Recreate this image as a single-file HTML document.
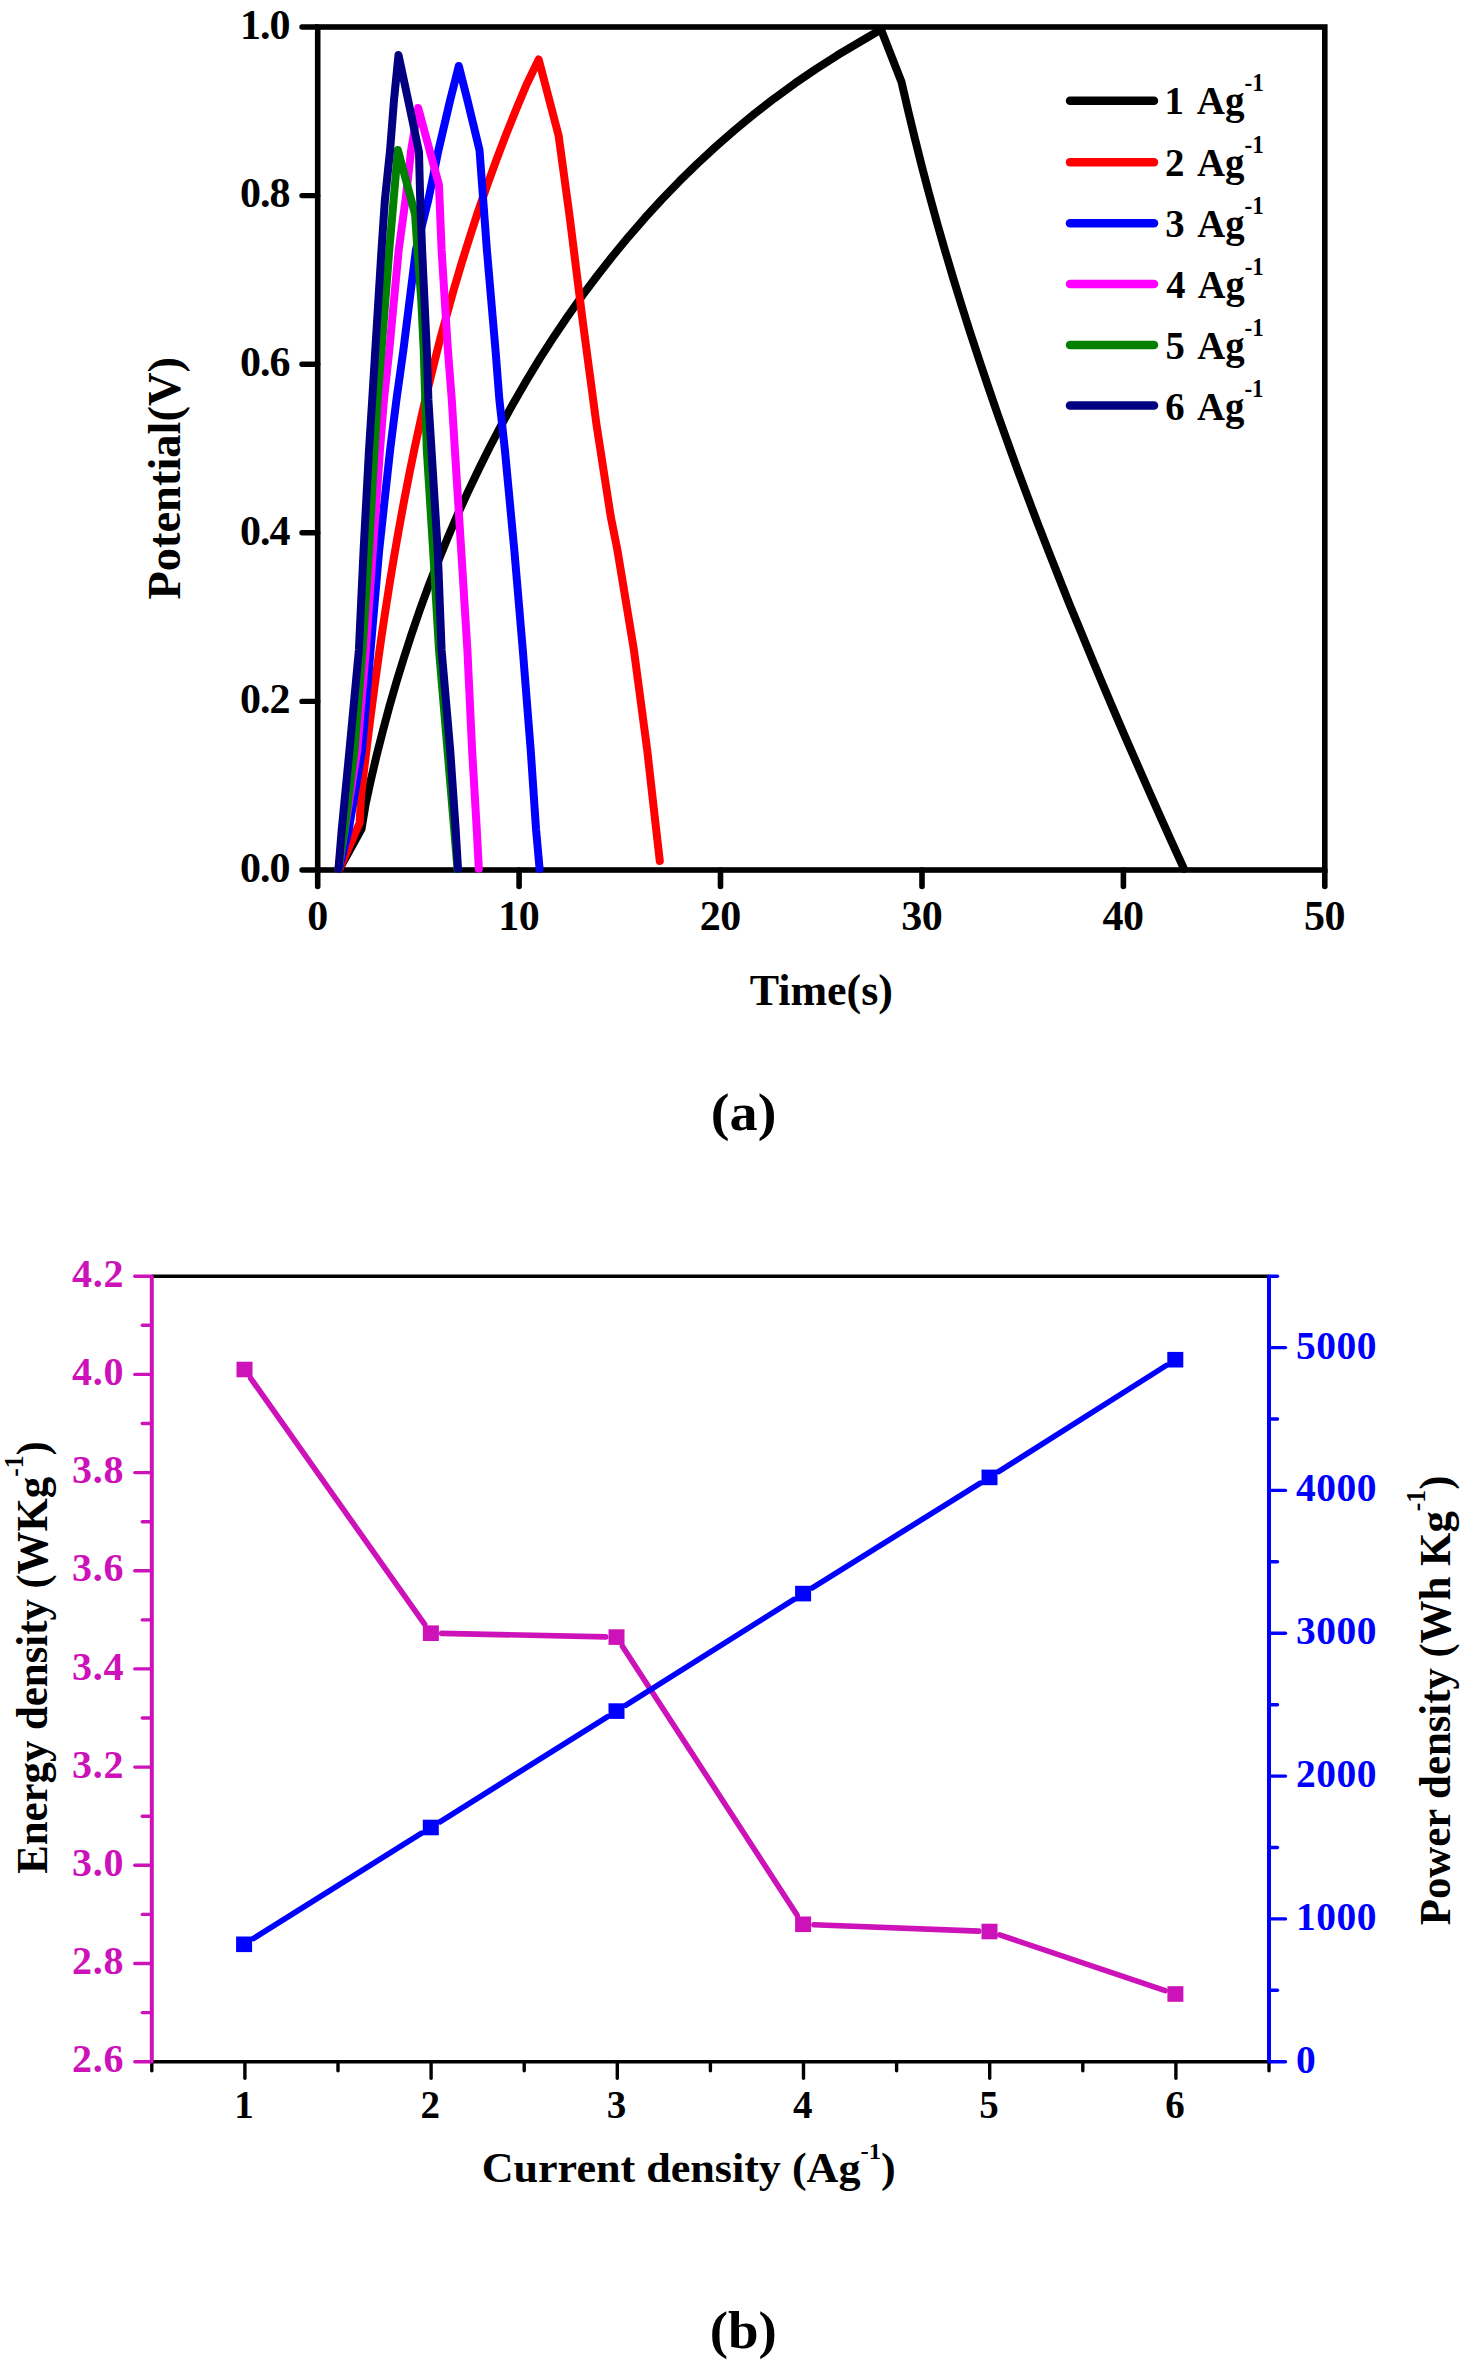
<!DOCTYPE html>
<html><head><meta charset="utf-8"><style>
html,body{margin:0;padding:0;background:#fff;}
svg{display:block;}
</style></head><body>
<svg width="1473" height="2363" viewBox="0 0 1473 2363">
<rect width="1473" height="2363" fill="#fff"/>
<rect x="317.7" y="27.0" width="1007.1" height="843" fill="none" stroke="#000" stroke-width="5.6"/>
<line x1="302" y1="870" x2="317.7" y2="870" stroke="#000" stroke-width="5.4" stroke-linecap="round"/>
<text x="289.6" y="881.8" text-anchor="end" font-size="42" letter-spacing="-1" font-family="Liberation Serif, serif" font-weight="bold">0.0</text>
<line x1="302" y1="701.4" x2="317.7" y2="701.4" stroke="#000" stroke-width="5.4" stroke-linecap="round"/>
<text x="289.6" y="713.2" text-anchor="end" font-size="42" letter-spacing="-1" font-family="Liberation Serif, serif" font-weight="bold">0.2</text>
<line x1="302" y1="532.8" x2="317.7" y2="532.8" stroke="#000" stroke-width="5.4" stroke-linecap="round"/>
<text x="289.6" y="544.6" text-anchor="end" font-size="42" letter-spacing="-1" font-family="Liberation Serif, serif" font-weight="bold">0.4</text>
<line x1="302" y1="364.2" x2="317.7" y2="364.2" stroke="#000" stroke-width="5.4" stroke-linecap="round"/>
<text x="289.6" y="376" text-anchor="end" font-size="42" letter-spacing="-1" font-family="Liberation Serif, serif" font-weight="bold">0.6</text>
<line x1="302" y1="195.6" x2="317.7" y2="195.6" stroke="#000" stroke-width="5.4" stroke-linecap="round"/>
<text x="289.6" y="207.4" text-anchor="end" font-size="42" letter-spacing="-1" font-family="Liberation Serif, serif" font-weight="bold">0.8</text>
<line x1="302" y1="27" x2="317.7" y2="27" stroke="#000" stroke-width="5.4" stroke-linecap="round"/>
<text x="289.6" y="38.8" text-anchor="end" font-size="42" letter-spacing="-1" font-family="Liberation Serif, serif" font-weight="bold">1.0</text>
<line x1="317.7" y1="870.0" x2="317.7" y2="886.5" stroke="#000" stroke-width="5.6" stroke-linecap="round"/>
<text x="317.4" y="929.5" text-anchor="middle" font-size="42" letter-spacing="-0.5" font-family="Liberation Serif, serif" font-weight="bold">0</text>
<line x1="519.1" y1="870.0" x2="519.1" y2="886.5" stroke="#000" stroke-width="5.6" stroke-linecap="round"/>
<text x="518.8" y="929.5" text-anchor="middle" font-size="42" letter-spacing="-0.5" font-family="Liberation Serif, serif" font-weight="bold">10</text>
<line x1="720.5" y1="870.0" x2="720.5" y2="886.5" stroke="#000" stroke-width="5.6" stroke-linecap="round"/>
<text x="720.2" y="929.5" text-anchor="middle" font-size="42" letter-spacing="-0.5" font-family="Liberation Serif, serif" font-weight="bold">20</text>
<line x1="922" y1="870.0" x2="922" y2="886.5" stroke="#000" stroke-width="5.6" stroke-linecap="round"/>
<text x="921.7" y="929.5" text-anchor="middle" font-size="42" letter-spacing="-0.5" font-family="Liberation Serif, serif" font-weight="bold">30</text>
<line x1="1123.4" y1="870.0" x2="1123.4" y2="886.5" stroke="#000" stroke-width="5.6" stroke-linecap="round"/>
<text x="1123.1" y="929.5" text-anchor="middle" font-size="42" letter-spacing="-0.5" font-family="Liberation Serif, serif" font-weight="bold">40</text>
<line x1="1324.8" y1="870.0" x2="1324.8" y2="886.5" stroke="#000" stroke-width="5.6" stroke-linecap="round"/>
<text x="1324.5" y="929.5" text-anchor="middle" font-size="42" letter-spacing="-0.5" font-family="Liberation Serif, serif" font-weight="bold">50</text>
<path d="M339.5,868.8 L361.5,829 L365.7,803.7 L371,779.4 L376.7,755 L382.9,730.7 L389.4,706.4 L396.4,682.2 L403.8,658.1 L411.6,634 L419.8,610 L428.5,586.2 L437.6,562.6 L447.2,539 L457.1,515.7 L467.6,492.6 L478.5,469.7 L489.8,447 L501.6,424.6 L513.8,402.4 L526.5,380.5 L539.6,358.9 L553.3,337.7 L567.4,316.8 L581.9,296.2 L597,276 L612.5,256.2 L628.5,236.8 L645,217.8 L662,199.3 L679.4,181.2 L697.4,163.6 L715.9,146.5 L734.8,130 L754.3,113.9 L774.3,98.4 L794.8,83.4 L815.8,69.1 L837.3,55.3 L859.3,42.2 L881,29.5 L901.5,82 L908,110.2 L914.8,138.3 L921.8,166.3 L929.2,194.2 L936.8,222 L944.8,249.8 L953,277.5 L961.5,305.1 L970.2,332.6 L979.2,360.1 L988.4,387.4 L997.8,414.7 L1007.5,441.9 L1017.3,469.1 L1027.4,496.2 L1037.6,523.2 L1048.1,550.1 L1058.7,577 L1069.4,603.9 L1080.4,630.6 L1091.4,657.3 L1102.6,684 L1113.9,710.6 L1125.3,737.1 L1136.9,763.6 L1148.5,790 L1160.2,816.4 L1172,842.7 L1184,868.8" fill="none" stroke="#000000" stroke-width="8" stroke-linejoin="round" stroke-linecap="round"/>
<path d="M339.5,868.8 L359.6,823 L361.1,795.8 L364.2,768.9 L367.4,742 L370.8,715.1 L374.3,688.2 L378,661.3 L381.8,634.4 L385.9,607.5 L390.1,580.6 L394.6,553.7 L399.3,526.9 L404.2,500.2 L409.4,473.5 L414.9,446.8 L420.7,420.2 L426.7,393.7 L433.1,367.3 L439.7,340.9 L446.8,314.7 L454.1,288.5 L461.8,262.5 L469.9,236.6 L478.3,210.8 L487.2,185.2 L496.5,159.6 L506.1,134.3 L516.3,109.1 L526.8,84 L538.7,59.5 L558.6,135.4 L569.8,217.8 L582.2,317.3 L596.4,424 L610.7,516.4 L617.4,550 L633.9,650 L647.2,750 L655.1,820 L659.8,861" fill="none" stroke="#ff0000" stroke-width="8" stroke-linejoin="round" stroke-linecap="round"/>
<path d="M339,868.8 L348.7,830 L362,750 L370.6,650 L379.2,550 L390.1,450 L396.4,400 L403.4,350 L415.9,250 L428.3,200 L438.5,150 L450.2,100 L458.8,66 L467.4,100 L479.5,150 L486.9,250 L495.5,350 L499.4,400 L504.9,450 L514.3,550 L522.8,650 L530.7,750 L536.1,830 L539.6,868.8" fill="none" stroke="#0000ff" stroke-width="8" stroke-linejoin="round" stroke-linecap="round"/>
<path d="M338.5,868.8 L357.3,750 L365.9,650 L372.9,550 L380,450 L383.9,400 L389.3,350 L398.7,250 L405.5,200 L411.2,150 L418.2,108 L439,185 L441.6,250 L447.9,350 L451.8,400 L454.9,450 L461.2,550 L467.4,650 L472.1,750 L476.8,830 L478.8,868.8" fill="none" stroke="#ff00ff" stroke-width="8" stroke-linejoin="round" stroke-linecap="round"/>
<path d="M338.5,868.8 L344.5,830 L354.5,750 L362.5,650 L369,550 L374.5,450 L377.6,400 L381.5,350 L389.3,250 L393.6,200 L397.9,150 L415,214 L417.5,250 L421.3,300 L423.7,350 L426.8,450 L433.1,550 L439,650 L447.5,750 L457.5,868.8" fill="none" stroke="#008000" stroke-width="8" stroke-linejoin="round" stroke-linecap="round"/>
<path d="M338.5,868.8 L341.7,830 L349.5,750 L358.9,650 L363.6,550 L369,450 L372.2,400 L375.3,350 L381.5,250 L384.9,200 L390.1,150 L394,100 L398.5,55 L408.1,100 L419,152 L420.2,200 L422.1,250 L426.8,350 L428.4,400 L431.5,450 L437.7,550 L441.6,650 L450.2,750 L455.7,830 L458,868.8" fill="none" stroke="#000080" stroke-width="8" stroke-linejoin="round" stroke-linecap="round"/>
<text transform="translate(749.655,1004.943) scale(0.977,1)" font-size="45" fill="#000" font-family="Liberation Serif, serif" font-weight="bold">Time(s)</text>
<text transform="translate(180.214,599.604) rotate(-90) scale(1.01,1)" font-size="46" fill="#000" font-family="Liberation Serif, serif" font-weight="bold">Potential(V)</text>
<line x1="1070" y1="100.7" x2="1154" y2="100.7" stroke="#000000" stroke-width="8.5" stroke-linecap="round"/>
<text transform="translate(1164.519,114.1) scale(0.953,1)" font-size="41" fill="#000" font-family="Liberation Serif, serif" font-weight="bold">1 <tspan dx="3">Ag</tspan><tspan font-size="24.5" dy="-23">-1</tspan></text>
<line x1="1070" y1="162.3" x2="1154" y2="162.3" stroke="#ff0000" stroke-width="8.5" stroke-linecap="round"/>
<text transform="translate(1164.988,176.3) scale(0.949,1)" font-size="41" fill="#000" font-family="Liberation Serif, serif" font-weight="bold">2 <tspan dx="3">Ag</tspan><tspan font-size="24.5" dy="-23">-1</tspan></text>
<line x1="1070" y1="223.3" x2="1154" y2="223.3" stroke="#0000ff" stroke-width="8.5" stroke-linecap="round"/>
<text transform="translate(1165.282,237.3) scale(0.946,1)" font-size="41" fill="#000" font-family="Liberation Serif, serif" font-weight="bold">3 <tspan dx="3">Ag</tspan><tspan font-size="24.5" dy="-23">-1</tspan></text>
<line x1="1070" y1="284.1" x2="1154" y2="284.1" stroke="#ff00ff" stroke-width="8.5" stroke-linecap="round"/>
<text transform="translate(1166.197,297.9) scale(0.936,1)" font-size="41" fill="#000" font-family="Liberation Serif, serif" font-weight="bold">4 <tspan dx="3">Ag</tspan><tspan font-size="24.5" dy="-23">-1</tspan></text>
<line x1="1070" y1="344.9" x2="1154" y2="344.9" stroke="#008000" stroke-width="8.5" stroke-linecap="round"/>
<text transform="translate(1165.386,358.5) scale(0.945,1)" font-size="41" fill="#000" font-family="Liberation Serif, serif" font-weight="bold">5 <tspan dx="3">Ag</tspan><tspan font-size="24.5" dy="-23">-1</tspan></text>
<line x1="1070" y1="405.5" x2="1154" y2="405.5" stroke="#000080" stroke-width="8.5" stroke-linecap="round"/>
<text transform="translate(1165.189,419.7) scale(0.945,1)" font-size="41" fill="#000" font-family="Liberation Serif, serif" font-weight="bold">6 <tspan dx="3">Ag</tspan><tspan font-size="24.5" dy="-23">-1</tspan></text>
<text transform="translate(710.795,1130.265) scale(1.069,1)" font-size="52.6" fill="#000" font-family="Liberation Serif, serif" font-weight="bold">(a)</text>
<line x1="151.8" y1="1276.2" x2="1269.0" y2="1276.2" stroke="#000" stroke-width="3.6"/>
<line x1="151.8" y1="2061.7" x2="1269.0" y2="2061.7" stroke="#000" stroke-width="3.6"/>
<line x1="151.8" y1="2061.7" x2="151.8" y2="2070.7" stroke="#000" stroke-width="3.4" stroke-linecap="round"/>
<line x1="244.9" y1="2061.7" x2="244.9" y2="2078.2" stroke="#000" stroke-width="3.4" stroke-linecap="round"/>
<text x="244.1" y="2118.3" text-anchor="middle" font-size="39" font-family="Liberation Serif, serif" font-weight="bold">1</text>
<line x1="338" y1="2061.7" x2="338" y2="2070.7" stroke="#000" stroke-width="3.4" stroke-linecap="round"/>
<line x1="431.1" y1="2061.7" x2="431.1" y2="2078.2" stroke="#000" stroke-width="3.4" stroke-linecap="round"/>
<text x="430.3" y="2118.3" text-anchor="middle" font-size="39" font-family="Liberation Serif, serif" font-weight="bold">2</text>
<line x1="524.2" y1="2061.7" x2="524.2" y2="2070.7" stroke="#000" stroke-width="3.4" stroke-linecap="round"/>
<line x1="617.3" y1="2061.7" x2="617.3" y2="2078.2" stroke="#000" stroke-width="3.4" stroke-linecap="round"/>
<text x="616.5" y="2118.3" text-anchor="middle" font-size="39" font-family="Liberation Serif, serif" font-weight="bold">3</text>
<line x1="710.4" y1="2061.7" x2="710.4" y2="2070.7" stroke="#000" stroke-width="3.4" stroke-linecap="round"/>
<line x1="803.5" y1="2061.7" x2="803.5" y2="2078.2" stroke="#000" stroke-width="3.4" stroke-linecap="round"/>
<text x="802.7" y="2118.3" text-anchor="middle" font-size="39" font-family="Liberation Serif, serif" font-weight="bold">4</text>
<line x1="896.6" y1="2061.7" x2="896.6" y2="2070.7" stroke="#000" stroke-width="3.4" stroke-linecap="round"/>
<line x1="989.7" y1="2061.7" x2="989.7" y2="2078.2" stroke="#000" stroke-width="3.4" stroke-linecap="round"/>
<text x="988.9" y="2118.3" text-anchor="middle" font-size="39" font-family="Liberation Serif, serif" font-weight="bold">5</text>
<line x1="1082.8" y1="2061.7" x2="1082.8" y2="2070.7" stroke="#000" stroke-width="3.4" stroke-linecap="round"/>
<line x1="1175.9" y1="2061.7" x2="1175.9" y2="2078.2" stroke="#000" stroke-width="3.4" stroke-linecap="round"/>
<text x="1175.1" y="2118.3" text-anchor="middle" font-size="39" font-family="Liberation Serif, serif" font-weight="bold">6</text>
<line x1="1269" y1="2061.7" x2="1269" y2="2070.7" stroke="#000" stroke-width="3.4" stroke-linecap="round"/>
<line x1="151.8" y1="1276.2" x2="151.8" y2="2061.7" stroke="#cc12b8" stroke-width="4"/>
<line x1="1269.0" y1="1276.2" x2="1269.0" y2="2061.7" stroke="#0000ff" stroke-width="4"/>
<line x1="134.8" y1="2061.7" x2="151.8" y2="2061.7" stroke="#cc12b8" stroke-width="3.4" stroke-linecap="round"/>
<text x="124.4" y="2072.3" text-anchor="end" font-size="40" letter-spacing="0.8" fill="#cc12b8" font-family="Liberation Serif, serif" font-weight="bold">2.6</text>
<line x1="142.3" y1="2012.6" x2="151.8" y2="2012.6" stroke="#cc12b8" stroke-width="3.4" stroke-linecap="round"/>
<line x1="134.8" y1="1963.5" x2="151.8" y2="1963.5" stroke="#cc12b8" stroke-width="3.4" stroke-linecap="round"/>
<text x="124.4" y="1974.1" text-anchor="end" font-size="40" letter-spacing="0.8" fill="#cc12b8" font-family="Liberation Serif, serif" font-weight="bold">2.8</text>
<line x1="142.3" y1="1914.4" x2="151.8" y2="1914.4" stroke="#cc12b8" stroke-width="3.4" stroke-linecap="round"/>
<line x1="134.8" y1="1865.3" x2="151.8" y2="1865.3" stroke="#cc12b8" stroke-width="3.4" stroke-linecap="round"/>
<text x="124.4" y="1875.9" text-anchor="end" font-size="40" letter-spacing="0.8" fill="#cc12b8" font-family="Liberation Serif, serif" font-weight="bold">3.0</text>
<line x1="142.3" y1="1816.2" x2="151.8" y2="1816.2" stroke="#cc12b8" stroke-width="3.4" stroke-linecap="round"/>
<line x1="134.8" y1="1767.1" x2="151.8" y2="1767.1" stroke="#cc12b8" stroke-width="3.4" stroke-linecap="round"/>
<text x="124.4" y="1777.7" text-anchor="end" font-size="40" letter-spacing="0.8" fill="#cc12b8" font-family="Liberation Serif, serif" font-weight="bold">3.2</text>
<line x1="142.3" y1="1718" x2="151.8" y2="1718" stroke="#cc12b8" stroke-width="3.4" stroke-linecap="round"/>
<line x1="134.8" y1="1668.9" x2="151.8" y2="1668.9" stroke="#cc12b8" stroke-width="3.4" stroke-linecap="round"/>
<text x="124.4" y="1679.5" text-anchor="end" font-size="40" letter-spacing="0.8" fill="#cc12b8" font-family="Liberation Serif, serif" font-weight="bold">3.4</text>
<line x1="142.3" y1="1619.9" x2="151.8" y2="1619.9" stroke="#cc12b8" stroke-width="3.4" stroke-linecap="round"/>
<line x1="134.8" y1="1570.8" x2="151.8" y2="1570.8" stroke="#cc12b8" stroke-width="3.4" stroke-linecap="round"/>
<text x="124.4" y="1581.4" text-anchor="end" font-size="40" letter-spacing="0.8" fill="#cc12b8" font-family="Liberation Serif, serif" font-weight="bold">3.6</text>
<line x1="142.3" y1="1521.7" x2="151.8" y2="1521.7" stroke="#cc12b8" stroke-width="3.4" stroke-linecap="round"/>
<line x1="134.8" y1="1472.6" x2="151.8" y2="1472.6" stroke="#cc12b8" stroke-width="3.4" stroke-linecap="round"/>
<text x="124.4" y="1483.2" text-anchor="end" font-size="40" letter-spacing="0.8" fill="#cc12b8" font-family="Liberation Serif, serif" font-weight="bold">3.8</text>
<line x1="142.3" y1="1423.5" x2="151.8" y2="1423.5" stroke="#cc12b8" stroke-width="3.4" stroke-linecap="round"/>
<line x1="134.8" y1="1374.4" x2="151.8" y2="1374.4" stroke="#cc12b8" stroke-width="3.4" stroke-linecap="round"/>
<text x="124.4" y="1385" text-anchor="end" font-size="40" letter-spacing="0.8" fill="#cc12b8" font-family="Liberation Serif, serif" font-weight="bold">4.0</text>
<line x1="142.3" y1="1325.3" x2="151.8" y2="1325.3" stroke="#cc12b8" stroke-width="3.4" stroke-linecap="round"/>
<line x1="134.8" y1="1276.2" x2="151.8" y2="1276.2" stroke="#cc12b8" stroke-width="3.4" stroke-linecap="round"/>
<text x="124.4" y="1286.8" text-anchor="end" font-size="40" letter-spacing="0.8" fill="#cc12b8" font-family="Liberation Serif, serif" font-weight="bold">4.2</text>
<line x1="1269.0" y1="2061.7" x2="1285.5" y2="2061.7" stroke="#0000ff" stroke-width="3.4" stroke-linecap="round"/>
<text x="1295.9" y="2072.7" font-size="39.5" letter-spacing="0.5" fill="#0000ff" font-family="Liberation Serif, serif" font-weight="bold">0</text>
<line x1="1269.0" y1="1990.3" x2="1277.5" y2="1990.3" stroke="#0000ff" stroke-width="3.4" stroke-linecap="round"/>
<line x1="1269.0" y1="1918.9" x2="1285.5" y2="1918.9" stroke="#0000ff" stroke-width="3.4" stroke-linecap="round"/>
<text x="1295.9" y="1929.9" font-size="39.5" letter-spacing="0.5" fill="#0000ff" font-family="Liberation Serif, serif" font-weight="bold">1000</text>
<line x1="1269.0" y1="1847.5" x2="1277.5" y2="1847.5" stroke="#0000ff" stroke-width="3.4" stroke-linecap="round"/>
<line x1="1269.0" y1="1776.1" x2="1285.5" y2="1776.1" stroke="#0000ff" stroke-width="3.4" stroke-linecap="round"/>
<text x="1295.9" y="1787.1" font-size="39.5" letter-spacing="0.5" fill="#0000ff" font-family="Liberation Serif, serif" font-weight="bold">2000</text>
<line x1="1269.0" y1="1704.7" x2="1277.5" y2="1704.7" stroke="#0000ff" stroke-width="3.4" stroke-linecap="round"/>
<line x1="1269.0" y1="1633.2" x2="1285.5" y2="1633.2" stroke="#0000ff" stroke-width="3.4" stroke-linecap="round"/>
<text x="1295.9" y="1644.2" font-size="39.5" letter-spacing="0.5" fill="#0000ff" font-family="Liberation Serif, serif" font-weight="bold">3000</text>
<line x1="1269.0" y1="1561.8" x2="1277.5" y2="1561.8" stroke="#0000ff" stroke-width="3.4" stroke-linecap="round"/>
<line x1="1269.0" y1="1490.4" x2="1285.5" y2="1490.4" stroke="#0000ff" stroke-width="3.4" stroke-linecap="round"/>
<text x="1295.9" y="1501.4" font-size="39.5" letter-spacing="0.5" fill="#0000ff" font-family="Liberation Serif, serif" font-weight="bold">4000</text>
<line x1="1269.0" y1="1419" x2="1277.5" y2="1419" stroke="#0000ff" stroke-width="3.4" stroke-linecap="round"/>
<line x1="1269.0" y1="1347.6" x2="1285.5" y2="1347.6" stroke="#0000ff" stroke-width="3.4" stroke-linecap="round"/>
<text x="1295.9" y="1358.6" font-size="39.5" letter-spacing="0.5" fill="#0000ff" font-family="Liberation Serif, serif" font-weight="bold">5000</text>
<line x1="1269.0" y1="1276.2" x2="1277.5" y2="1276.2" stroke="#0000ff" stroke-width="3.4" stroke-linecap="round"/>
<line x1="250.7" y1="1378.3" x2="424.7" y2="1624.4" stroke="#cc12b8" stroke-width="5.6" stroke-linecap="round"/>
<line x1="441.7" y1="1633.4" x2="605.7" y2="1636.9" stroke="#cc12b8" stroke-width="5.6" stroke-linecap="round"/>
<line x1="622.4" y1="1646.2" x2="797.2" y2="1915.2" stroke="#cc12b8" stroke-width="5.6" stroke-linecap="round"/>
<line x1="813.9" y1="1924.7" x2="978.7" y2="1931.1" stroke="#cc12b8" stroke-width="5.6" stroke-linecap="round"/>
<line x1="999.7" y1="1934.9" x2="1165.2" y2="1990.6" stroke="#cc12b8" stroke-width="5.6" stroke-linecap="round"/>
<rect x="236.5" y="1361.7" width="16" height="15.6" fill="#cc12b8"/>
<rect x="422.9" y="1625.4" width="16" height="15.6" fill="#cc12b8"/>
<rect x="608.5" y="1629.3" width="16" height="15.6" fill="#cc12b8"/>
<rect x="795.1" y="1916.5" width="16" height="15.6" fill="#cc12b8"/>
<rect x="981.5" y="1923.7" width="16" height="15.6" fill="#cc12b8"/>
<rect x="1167.4" y="1986.2" width="16" height="15.6" fill="#cc12b8"/>
<line x1="253.3" y1="1938.6" x2="421.6" y2="1833.2" stroke="#0000ff" stroke-width="5.6" stroke-linecap="round"/>
<line x1="440" y1="1821.8" x2="607.3" y2="1716.8" stroke="#0000ff" stroke-width="5.6" stroke-linecap="round"/>
<line x1="625.6" y1="1705.3" x2="794" y2="1599.4" stroke="#0000ff" stroke-width="5.6" stroke-linecap="round"/>
<line x1="812.3" y1="1587.9" x2="980.3" y2="1483.1" stroke="#0000ff" stroke-width="5.6" stroke-linecap="round"/>
<line x1="998.6" y1="1471.6" x2="1166.2" y2="1365.5" stroke="#0000ff" stroke-width="5.6" stroke-linecap="round"/>
<rect x="236.1" y="1936.5" width="16" height="15.6" fill="#0000ff"/>
<rect x="422.8" y="1819.7" width="16" height="15.6" fill="#0000ff"/>
<rect x="608.5" y="1703.3" width="16" height="15.6" fill="#0000ff"/>
<rect x="795.1" y="1585.8" width="16" height="15.6" fill="#0000ff"/>
<rect x="981.5" y="1469.6" width="16" height="15.6" fill="#0000ff"/>
<rect x="1167.3" y="1351.9" width="16" height="15.6" fill="#0000ff"/>
<text transform="translate(481.686,2181.9) scale(1.05,1)" font-size="42" fill="#000" font-family="Liberation Serif, serif" font-weight="bold">Current density (Ag<tspan font-size="23.5" dy="-23">-1</tspan><tspan dy="23">)</tspan></text>
<text transform="translate(47.053,1873.76) rotate(-90) scale(0.951,1)" font-size="45" fill="#000" font-family="Liberation Serif, serif" font-weight="bold">Energy density (WKg<tspan font-size="27" dy="-24">-1</tspan><tspan dy="24">)</tspan></text>
<text transform="translate(1449.79,1925.242) rotate(-90) scale(0.951,1)" font-size="45" fill="#000" font-family="Liberation Serif, serif" font-weight="bold">Power density (Wh Kg<tspan font-size="27" dy="-24.5">-1</tspan><tspan dy="24.5">)</tspan></text>
<text transform="translate(709.731,2347.649) scale(1.045,1)" font-size="52.6" fill="#000" font-family="Liberation Serif, serif" font-weight="bold">(b)</text>
</svg>
</body></html>
